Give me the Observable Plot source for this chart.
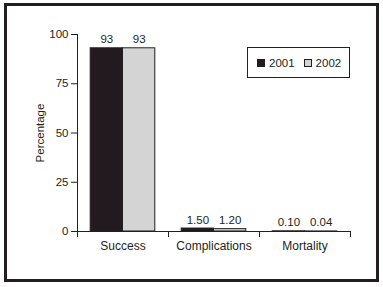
<!DOCTYPE html>
<html>
<head>
<meta charset="utf-8">
<script src="https://cdn.jsdelivr.net/npm/d3@7"></script>
<script src="https://cdn.jsdelivr.net/npm/@observablehq/plot@0.6"></script>
<style>
  html, body { margin: 0; padding: 0; background: #fff; }
  #wrap { position: relative; width: 383px; height: 287px; overflow: hidden; font-family: "Liberation Sans", Arial, sans-serif; color: #231f20; }
  #box { position: absolute; left: 4px; top: 3px; width: 375px; height: 279px; box-sizing: border-box; border: 3px solid #231f20; }
  #chart { position: absolute; left: 0; top: 0; }
  #legend { position: absolute; left: 247px; top: 47px; width: 103px; height: 31px; box-sizing: border-box; border: 1px solid #231f20; display: flex; align-items: center; padding-left: 9px; font-size: 11.5px; }
  .item { display: flex; align-items: center; margin-right: 9px; }
  .sw { width: 6px; height: 6px; border: 1px solid #231f20; margin-right: 4px; }
</style>
</head>
<body>
<div id="wrap">
  <div id="box"></div>
  <div id="chart"></div>
  <div id="legend"></div>
</div>
<script>
const categories = ["Success", "Complications", "Mortality"];
const years = ["2001", "2002"];
const values2001 = [93, 1.5, 0.1];
const values2002 = [93, 1.2, 0.04];
const labels2001 = ["93", "1.50", "0.10"];
const labels2002 = ["93", "1.20", "0.04"];
const yTicks = [0, 25, 50, 75, 100];
const colors = ["#231a20", "#d4d4d4"];
const yLabel = "Percentage";

const series = [values2001, values2002];
const labels = [labels2001, labels2002];
const barStart = 0.145, barWidth = 0.355;

const rows = categories.flatMap((c, i) => years.map((yr, j) => ({
  cat: c, i, j, year: yr, value: series[j][i], label: labels[j][i]
})));

const ink = "#231f20";
const chart = Plot.plot({
  width: 383,
  height: 287,
  marginLeft: 77,
  marginRight: 33,
  marginTop: 34,
  marginBottom: 56,
  style: { fontFamily: '"Liberation Sans", Arial, sans-serif', fontSize: "11.5px", color: ink, background: "transparent" },
  x: { domain: [0, categories.length], axis: null },
  y: { domain: [0, 100], axis: null },
  color: { domain: years, range: colors },
  marks: [
    Plot.axisY({ ticks: yTicks, tickSize: 6, tickPadding: 3, label: yLabel, labelAnchor: "center", labelArrow: "none", labelOffset: 42, fontSize: 11.5 }),
    Plot.axisX({ ticks: d3.range(categories.length + 1), tickFormat: () => "", tickSize: 6, label: null }),
    Plot.axisX({ ticks: categories.map((_, i) => i + 0.5), tickFormat: v => categories[Math.floor(v)], tickSize: 0, tickPadding: 10, label: null, fontSize: 12 }),
    Plot.rectY(rows, {
      x1: d => d.i + barStart + d.j * barWidth,
      x2: d => d.i + barStart + (d.j + 1) * barWidth,
      y: "value",
      fill: "year",
      stroke: ink,
      strokeWidth: 1
    }),
    Plot.text(rows, {
      x: d => d.i + barStart + (d.j + 0.5) * barWidth,
      y: "value",
      text: "label",
      dy: -5,
      lineAnchor: "bottom",
      fontSize: 11.5,
      fill: ink
    }),
    Plot.ruleY([0], { stroke: ink }),
    Plot.ruleX([0], { y1: 0, y2: 100, stroke: ink })
  ]
});
document.getElementById("chart").appendChild(chart);

const legend = document.getElementById("legend");
years.forEach((yr, j) => {
  const item = document.createElement("div");
  item.className = "item";
  const sw = document.createElement("div");
  sw.className = "sw";
  sw.style.background = colors[j];
  const t = document.createElement("span");
  t.textContent = yr;
  item.appendChild(sw);
  item.appendChild(t);
  legend.appendChild(item);
});
</script>
</body>
</html>
